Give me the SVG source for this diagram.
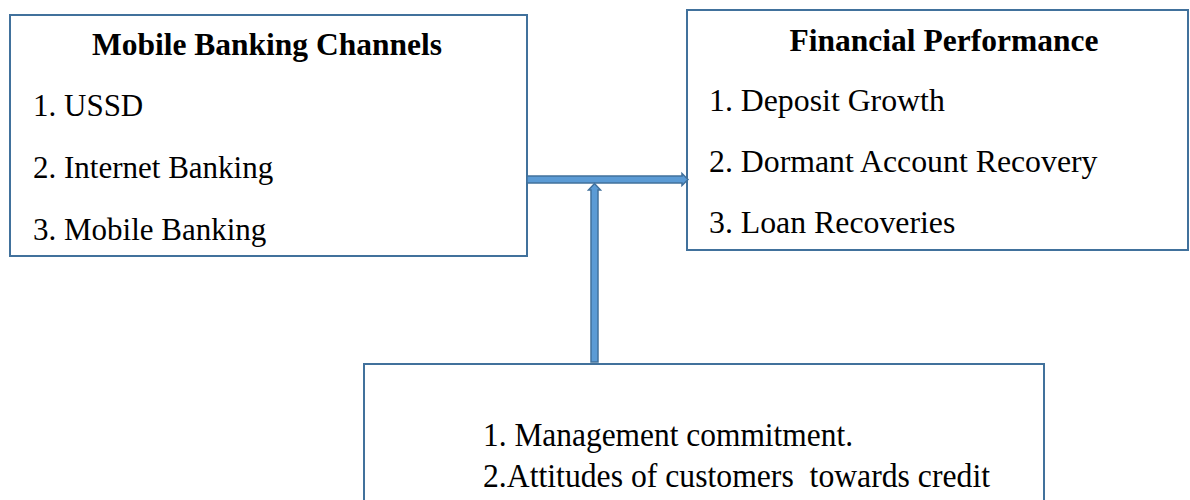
<svg xmlns="http://www.w3.org/2000/svg" width="1190" height="500" viewBox="0 0 1190 500">
  <style>
    .box { fill: #ffffff; stroke: #41719C; stroke-width: 2; }
    .title { font-family: "Liberation Serif", "Times New Roman", serif; font-weight: bold; font-size: 31.5px; fill: #000; }
    .item { font-family: "Liberation Serif", "Times New Roman", serif; font-size: 31px; fill: #000; }
    .item-r { font-size: 31.8px; }
    .item2 { font-family: "Liberation Serif", "Times New Roman", serif; font-size: 33px; fill: #000; white-space: pre; }
    .arrow { fill: #5B9BD5; stroke: #41719C; stroke-width: 1.5; stroke-linejoin: miter; }
  </style>

  <!-- Independent variable -->
  <g id="mobile-banking-channels">
    <rect class="box" x="10" y="15" width="517" height="241"/>
    <text class="title" x="267" y="55" text-anchor="middle">Mobile Banking Channels</text>
    <text class="item" x="33" y="116">1. USSD</text>
    <text class="item" x="33" y="178">2. Internet Banking</text>
    <text class="item" x="33" y="240">3. Mobile Banking</text>
  </g>

  <!-- Dependent variable -->
  <g id="financial-performance">
    <rect class="box" x="687" y="10" width="501" height="240"/>
    <text class="title" x="944" y="51" text-anchor="middle">Financial Performance</text>
    <text class="item item-r" x="709" y="111">1. Deposit Growth</text>
    <text class="item item-r" x="709" y="172">2. Dormant Account Recovery</text>
    <text class="item item-r" x="709" y="233">3. Loan Recoveries</text>
  </g>

  <!-- Moderating variables -->
  <g id="moderating-factors">
    <rect class="box" x="364" y="364" width="680" height="150"/>
    <text class="item2" x="483" y="446" textLength="370" lengthAdjust="spacingAndGlyphs">1. Management commitment.</text>
    <text class="item2" x="483" y="487" textLength="507" lengthAdjust="spacingAndGlyphs">2.Attitudes of customers  towards credit</text>
  </g>

  <!-- Connectors -->
  <g id="connectors">
    <path class="arrow" d="M527,176 L682,176 L682,173.5 L688,179.5 L682,185.5 L682,183 L527,183 Z"/>
    <path class="arrow" d="M591,362 L591,190 L588.5,190 L594.5,183.5 L600.5,190 L598,190 L598,362 Z"/>
  </g>
</svg>
